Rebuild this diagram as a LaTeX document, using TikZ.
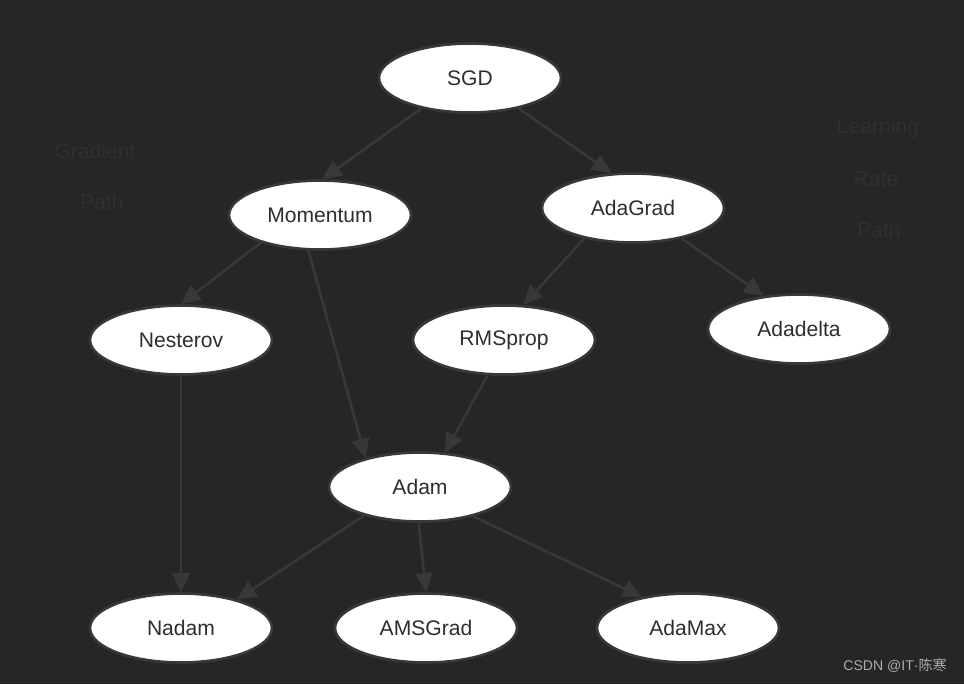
\documentclass[tikz,border=0pt]{standalone}
\usepackage{fontspec}
\setmainfont{Liberation Sans}
\newfontfamily\cjkfont{Noto Sans CJK SC}
\usetikzlibrary{shapes.geometric,arrows.meta}
\definecolor{bgc}{HTML}{262629}
\definecolor{edgec}{HTML}{38383A}
\definecolor{faintc}{HTML}{303033}
\definecolor{txtc}{HTML}{2E2E2E}
\definecolor{wmc}{HTML}{ABABAB}
\tikzset{
  algo/.style={ellipse, fill=white, draw=edgec, line width=1.5pt, minimum width=3.64cm, minimum height=1.38cm, inner sep=0pt, text=txtc, font=\fontsize{12}{14}\selectfont},
  conn/.style={draw=edgec, line width=1.5pt, -{Triangle[length=11pt,width=10pt]}},
  faint/.style={text=faintc, font=\fontsize{12}{14}\selectfont},
}
\begin{document}
\begin{tikzpicture}[x=0.02cm,y=-0.02cm]
\fill[bgc] (0,0) rectangle (964,684);
\useasboundingbox (0,0) rectangle (964,684);

\node[faint] (g1) at (95,151) {Gradient};
\node[faint] (g2) at (102,202) {Path};
\node[faint] (l1) at (878,128) {Learning};
\node[faint] (l2) at (876,179) {Rate};
\node[faint] (l3) at (879,230) {Path};

\node[algo] (sgd) at (470,78) {SGD};
\node[algo] (mom) at (320,215) {Momentum};
\node[algo] (adag) at (633,208) {AdaGrad};
\node[algo] (nes) at (181,340) {Nesterov};
\node[algo] (rms) at (504,340) {RMSprop};
\node[algo] (adad) at (799,329) {Adadelta};
\node[algo] (adam) at (420,487) {Adam};
\node[algo] (nadam) at (181,628) {Nadam};
\node[algo] (ams) at (426,628) {AMSGrad};
\node[algo] (amax) at (688,628) {AdaMax};

\draw[conn] (sgd.212) -- (mom.86);
\draw[conn] (sgd.328) -- (adag.122);
\draw[conn] (mom.205) -- (nes.90);
\draw[conn] (mom.252) -- (adam.152);
\draw[conn] (adag.212) -- (rms.61);
\draw[conn] (adag.328) -- (adad.137);
\draw[conn] (nes.270) -- (nadam.90);
\draw[conn] (rms.245) -- (adam.54);
\draw[conn] (adam.207) -- (nadam.27);
\draw[conn] (adam.268) -- (ams.90);
\draw[conn] (adam.331) -- (amax.146);

\node[text=wmc, font=\fontsize{8}{10}\selectfont, anchor=east, inner sep=0pt] (wm) at (947,666) {CSDN @IT·{\cjkfont 陈寒}};
\end{tikzpicture}
\end{document}
